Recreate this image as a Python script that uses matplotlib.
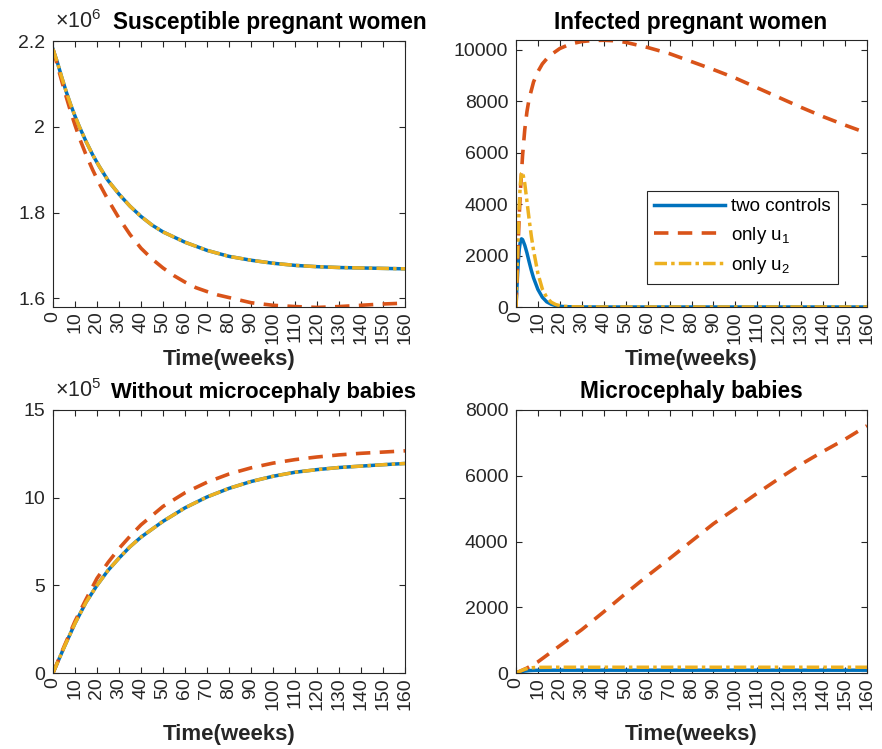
import numpy as np
import matplotlib
matplotlib.use('Agg')
import matplotlib.pyplot as plt
from matplotlib.ticker import FuncFormatter

plt.rcParams['font.family'] = ['Liberation Sans', 'DejaVu Sans']
plt.rcParams['mathtext.fontset'] = 'custom'
plt.rcParams['mathtext.rm'] = 'Liberation Sans'
plt.rcParams['mathtext.it'] = 'Liberation Sans:italic'

BLUE = '#0072BD'
RED = '#D95319'
YELLOW = '#EDB120'
DARK = '#262626'

LABELS = ['two controls', 'only u$_1$', 'only u$_2$']
WEEKS_TICKS = list(range(0, 161, 10))

# susceptible pregnant women (x 1e6)
t_s = [0, 2, 4, 6, 8, 10, 12, 15, 18, 21, 25, 30, 35, 40, 45, 50, 60, 70, 80, 90,
       100, 110, 120, 130, 140, 150, 160]
s_two = [2.181, 2.150, 2.115, 2.082, 2.052, 2.025, 2.000, 1.966, 1.935, 1.908, 1.875,
         1.843, 1.815, 1.791, 1.771, 1.755, 1.731, 1.712, 1.698, 1.689, 1.682, 1.677,
         1.674, 1.672, 1.671, 1.670, 1.669]
s_u2 = [2.181, 2.150, 2.115, 2.082, 2.052, 2.025, 2.000, 1.966, 1.935, 1.908, 1.875,
        1.843, 1.815, 1.791, 1.771, 1.755, 1.731, 1.712, 1.698, 1.689, 1.682, 1.677,
        1.674, 1.672, 1.671, 1.670, 1.669]
t_s_u1 = [0, 2, 4, 6, 8, 10, 12, 15, 18, 21, 25, 30, 35, 40, 45, 50, 55, 60, 65, 70,
          75, 80, 90, 100, 110, 120, 130, 140, 150, 160]
s_u1 = [2.181, 2.143, 2.106, 2.070, 2.036, 2.004, 1.974, 1.935, 1.900, 1.868, 1.830,
        1.787, 1.749, 1.717, 1.692, 1.671, 1.653, 1.638, 1.625, 1.616, 1.608, 1.602,
        1.590, 1.584, 1.581, 1.579, 1.581, 1.584, 1.587, 1.589]

# infected pregnant women
t_i = [0, 0.5, 1, 1.5, 2, 2.5, 3, 4, 5, 6, 7, 8, 10, 12, 14, 16, 18, 20, 22, 25, 30,
       40, 60, 80, 100, 120, 140, 160]
i_two = [0, 900, 1700, 2250, 2550, 2650, 2620, 2400, 2100, 1750, 1420, 1130, 680, 380,
         200, 110, 55, 30, 15, 8, 2, 0, 0, 0, 0, 0, 0, 0]
i_u2 = [0, 1500, 2900, 4000, 4800, 5200, 5250, 4800, 4100, 3400, 2750, 2200, 1300, 700,
        370, 190, 100, 50, 25, 10, 2, 0, 0, 0, 0, 0, 0, 0]
t_i_u1 = [0, 0.5, 1, 1.5, 2, 3, 4, 5, 6, 8, 10, 12, 15, 20, 25, 30, 35, 40, 45, 50, 60,
          70, 80, 90, 100, 110, 120, 130, 140, 150, 160]
i_u1 = [0, 1200, 2500, 3600, 4500, 5900, 6900, 7600, 8100, 8750, 9150, 9450, 9750,
        10050, 10230, 10320, 10360, 10370, 10350, 10290, 10090, 9850, 9540, 9230, 8900,
        8520, 8140, 7760, 7400, 7070, 6760]

# babies without microcephaly (x 1e5)
t_b = [0, 5, 10, 15, 20, 25, 30, 35, 40, 50, 60, 70, 80, 90, 100, 110, 120, 130, 140,
       150, 160]
b_two = [0, 1.45, 2.83, 4.03, 5.00, 5.85, 6.55, 7.20, 7.75, 8.65, 9.42, 10.04, 10.53,
         10.92, 11.22, 11.45, 11.60, 11.72, 11.80, 11.88, 11.95]
b_u2 = [0, 1.45, 2.83, 4.03, 5.00, 5.85, 6.55, 7.20, 7.75, 8.65, 9.42, 10.04, 10.53,
        10.92, 11.22, 11.45, 11.60, 11.72, 11.80, 11.88, 11.95]
b_u1 = [0, 1.50, 2.95, 4.20, 5.40, 6.30, 7.10, 7.80, 8.45, 9.50, 10.28, 10.88, 11.35,
        11.70, 11.97, 12.17, 12.32, 12.44, 12.53, 12.60, 12.67]

# microcephaly babies
t_m = [0, 2, 4, 6, 8, 10, 20, 160]
m_two = [0, 35, 60, 74, 80, 83, 85, 85]
m_u2 = [0, 60, 115, 150, 165, 172, 175, 175]
t_m_u1 = [0, 5, 10, 20, 30, 40, 50, 60, 70, 80, 90, 100, 110, 120, 130, 140, 150, 160]
m_u1 = [0, 150, 340, 830, 1320, 1860, 2420, 2960, 3480, 4010, 4540, 5000, 5470, 5920,
        6350, 6740, 7110, 7520]


def style_axes(ax, ylim, yticks, labelpad=4):
    ax.set_xlim(0, 160)
    ax.set_ylim(*ylim)
    ax.set_xticks(WEEKS_TICKS)
    ax.set_xticklabels([str(v) for v in WEEKS_TICKS], rotation=90)
    ax.set_yticks(yticks)
    ax.yaxis.set_major_formatter(FuncFormatter(lambda v, p: '%g' % v))
    ax.tick_params(direction='in', top=True, right=True, length=4, width=0.8,
                   colors=DARK, labelsize=14)
    ax.tick_params(axis='x', pad=3)
    ax.tick_params(axis='y', pad=5.5)
    for sp in ax.spines.values():
        sp.set_color(DARK)
        sp.set_linewidth(0.8)
    ax.set_xlabel('Time(weeks)', fontsize=16, fontweight='bold', color=DARK,
                  labelpad=labelpad)


def draw(ax, t_a, a, t_b_, b, t_c, c):
    ax.plot(t_a, a, color=BLUE, lw=2.5, label=LABELS[0])
    ax.plot(t_b_, b, color=RED, lw=2.6, dashes=(4, 2.6), label=LABELS[1])
    ax.plot(t_c, c, color=YELLOW, lw=2.5, dashes=(3.6, 1.2, 1.0, 1.2), label=LABELS[2])


W, H = 882, 749
fig = plt.figure(figsize=(W / 100, H / 100), dpi=100)


def box(l, r, t, b):
    return [l / W, 1 - b / H, (r - l) / W, (b - t) / H]


ax1 = fig.add_axes(box(53, 405, 41, 307))
ax2 = fig.add_axes(box(516, 867, 40, 307))
ax3 = fig.add_axes(box(53, 405, 410, 673))
ax4 = fig.add_axes(box(516, 867, 410, 673))

draw(ax1, t_s, s_two, t_s_u1, s_u1, t_s, s_u2)
style_axes(ax1, (1.58, 2.2), [1.6, 1.8, 2.0, 2.2])

draw(ax2, t_i, i_two, t_i_u1, i_u1, t_i, i_u2)
style_axes(ax2, (0, 10380), [0, 2000, 4000, 6000, 8000, 10000])
leg = ax2.legend(loc='lower right', bbox_to_anchor=(0.918, 0.088), fontsize=13.5,
                 handlelength=3.8, handletextpad=0.3, fancybox=False, framealpha=1,
                 edgecolor=DARK, borderpad=0.4, labelspacing=0.5, borderaxespad=0)
leg.get_frame().set_linewidth(0.8)

draw(ax3, t_b, b_two, t_b, b_u1, t_b, b_u2)
style_axes(ax3, (0, 15), [0, 5, 10, 15], labelpad=10)

draw(ax4, t_m, m_two, t_m_u1, m_u1, t_m, m_u2)
style_axes(ax4, (0, 8000), [0, 2000, 4000, 6000, 8000], labelpad=10)

fig.text(270 / W, 1 - 29 / H, 'Susceptible pregnant women', ha='center', va='baseline',
         fontsize=16.3, fontweight='bold')
fig.text(691 / W, 1 - 29 / H, 'Infected pregnant women', ha='center', va='baseline',
         fontsize=16.3, fontweight='bold')
fig.text(111 / W, 1 - 398 / H, 'Without microcephaly babies', ha='left', va='baseline',
         fontsize=15.8, fontweight='bold')
fig.text(691 / W, 1 - 398 / H, 'Microcephaly babies', ha='center', va='baseline',
         fontsize=16.3, fontweight='bold')
fig.text(55 / W, 1 - 28 / H, r'$\times10^{6}$', ha='left', va='baseline', fontsize=15.5,
         color=DARK)
fig.text(55 / W, 1 - 397 / H, r'$\times10^{5}$', ha='left', va='baseline', fontsize=15.5,
         color=DARK)

fig.savefig('out.png', dpi=100)
